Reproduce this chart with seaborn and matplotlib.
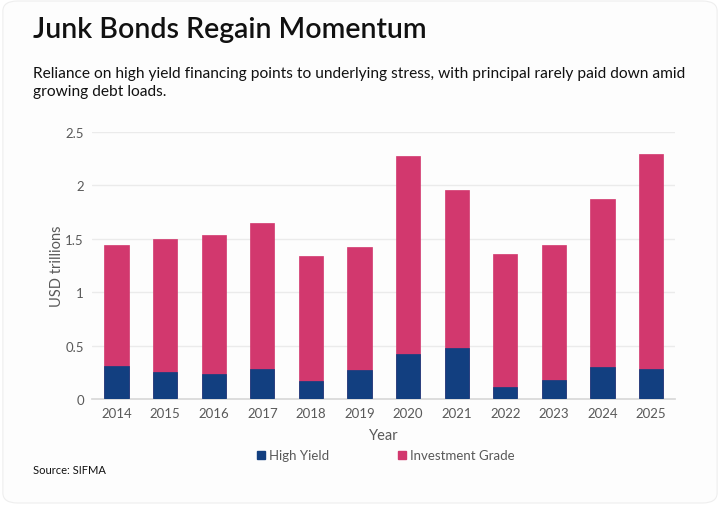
import pandas as pd
import seaborn as sns
import matplotlib.pyplot as plt
from matplotlib.patches import FancyBboxPatch, Patch

years = ["2014", "2015", "2016", "2017", "2018", "2019",
         "2020", "2021", "2022", "2023", "2024", "2025"]
high_yield = [0.31, 0.25, 0.23, 0.28, 0.17, 0.27, 0.42, 0.48, 0.11, 0.18, 0.30, 0.28]
investment_grade = [1.13, 1.25, 1.30, 1.37, 1.17, 1.15, 1.85, 1.48, 1.25, 1.26, 1.57, 2.01]

HY_COLOR = "#123f80"
IG_COLOR = "#d2386e"
TEXT_GRAY = "#595959"

df = pd.DataFrame({"Year": years, "High Yield": high_yield, "Investment Grade": investment_grade})
df["Total"] = df["High Yield"] + df["Investment Grade"]

sns.set_theme(style="white")
plt.rcParams["font.family"] = ["Lato", "DejaVu Sans"]

fig = plt.figure(figsize=(7.2, 5.06), dpi=100)
fig.patch.set_facecolor("white")
bg = FancyBboxPatch((0.004, 0.004), 0.992, 0.992, boxstyle="round,pad=0,rounding_size=0.02",
                    transform=fig.transFigure, facecolor="#fdfdfd", edgecolor="#eeeeee",
                    linewidth=0.8, zorder=-10)
fig.patches.append(bg)

ax = fig.add_axes([0.128, 0.2095, 0.81, 0.528])
ax.set_facecolor("none")

# stacked: draw totals in pink then high yield on top of them
sns.barplot(data=df, x="Year", y="Total", color=IG_COLOR, width=0.5, saturation=1,
            edgecolor=IG_COLOR, linewidth=0.5, ax=ax, zorder=2)
sns.barplot(data=df, x="Year", y="High Yield", color=HY_COLOR, width=0.5, saturation=1,
            edgecolor=HY_COLOR, linewidth=0.5, ax=ax, zorder=3)

ax.set_ylim(0, 2.5)
ax.set_xlim(-0.5, 11.5)
ax.set_yticks([0, 0.5, 1, 1.5, 2, 2.5])
ax.set_yticklabels(["0", "0.5", "1", "1.5", "2", "2.5"])
ax.yaxis.grid(True, color="#ebebeb", linewidth=1)
ax.set_axisbelow(True)
for s in ["top", "right", "left"]:
    ax.spines[s].set_visible(False)
ax.spines["bottom"].set_color("#d9d9d9")
ax.tick_params(axis="both", colors=TEXT_GRAY, labelsize=9.5, length=0, pad=6)
ax.set_xlabel("Year", color=TEXT_GRAY, fontsize=10.5, labelpad=6)
ax.set_ylabel("USD trillions", color=TEXT_GRAY, fontsize=10.5, labelpad=1)

handles = [Patch(color=HY_COLOR, label="High Yield"), Patch(color=IG_COLOR, label="Investment Grade")]
fig.legend(handles=handles, loc="center", bbox_to_anchor=(0.536, 0.098), ncol=2, frameon=False,
           handlelength=0.6, handleheight=0.6, handletextpad=0.3, columnspacing=5.2,
           fontsize=9.5, labelcolor=TEXT_GRAY)

fig.text(0.046, 0.925, "Junk Bonds Regain Momentum", fontsize=20.5, fontweight="semibold",
         color="#111111", va="baseline")
fig.text(0.046, 0.845, "Reliance on high yield financing points to underlying stress, with principal rarely paid down amid",
         fontsize=11.2, color="#111111", va="baseline")
fig.text(0.046, 0.81, "growing debt loads.", fontsize=11.2, color="#111111", va="baseline")
fig.text(0.046, 0.063, "Source: SIFMA", fontsize=8, color="#111111", va="baseline")

fig.savefig("out.png", dpi=100, facecolor=fig.get_facecolor())
